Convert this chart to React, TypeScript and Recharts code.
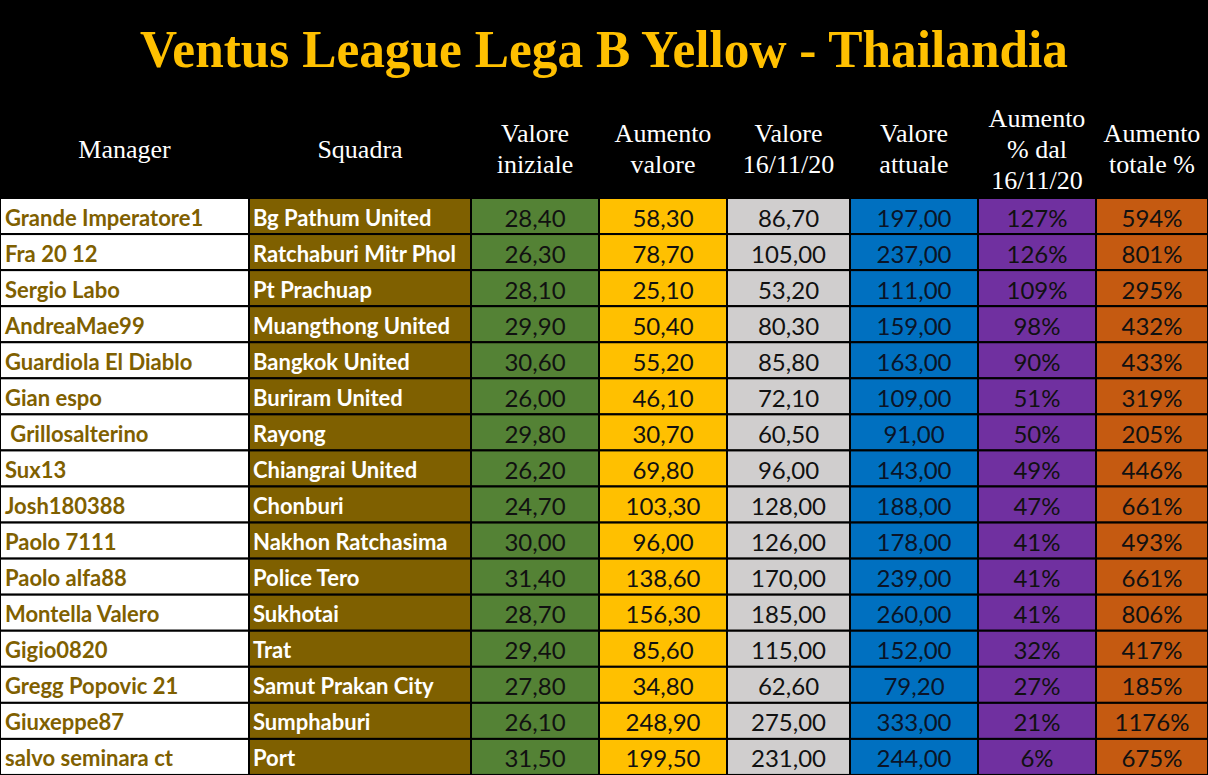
import { BarChart, Bar, XAxis, YAxis } from 'recharts';

const title = 'Ventus League Lega B Yellow - Thailandia';

const managers = [
  'Grande Imperatore1', 'Fra 20 12', 'Sergio Labo', 'AndreaMae99', 'Guardiola El Diablo',
  'Gian espo', ' Grillosalterino', 'Sux13', 'Josh180388', 'Paolo 7111', 'Paolo alfa88',
  'Montella Valero', 'Gigio0820', 'Gregg Popovic 21', 'Giuxeppe87', 'salvo seminara ct'
];
const squadre = [
  'Bg Pathum United', 'Ratchaburi Mitr Phol', 'Pt Prachuap', 'Muangthong United', 'Bangkok United',
  'Buriram United', 'Rayong', 'Chiangrai United', 'Chonburi', 'Nakhon Ratchasima', 'Police Tero',
  'Sukhotai', 'Trat', 'Samut Prakan City', 'Sumphaburi', 'Port'
];
const valoreIniziale = [28.4, 26.3, 28.1, 29.9, 30.6, 26.0, 29.8, 26.2, 24.7, 30.0, 31.4, 28.7, 29.4, 27.8, 26.1, 31.5];
const aumentoValore = [58.3, 78.7, 25.1, 50.4, 55.2, 46.1, 30.7, 69.8, 103.3, 96.0, 138.6, 156.3, 85.6, 34.8, 248.9, 199.5];
const valore161120 = [86.7, 105, 53.2, 80.3, 85.8, 72.1, 60.5, 96, 128, 126, 170, 185, 115, 62.6, 275, 231];
const valoreAttuale = [197, 237, 111, 159, 163, 109, 91, 143, 188, 178, 239, 260, 152, 79.2, 333, 244];
const aumentoDal = [127, 126, 109, 98, 90, 51, 50, 49, 47, 41, 41, 41, 32, 27, 21, 6];
const aumentoTotale = [594, 801, 295, 432, 433, 319, 205, 446, 661, 493, 661, 806, 417, 185, 1176, 675];

const headers = [
  ['Manager'], ['Squadra'], ['Valore', 'iniziale'], ['Aumento', 'valore'],
  ['Valore', '16/11/20'], ['Valore', 'attuale'], ['Aumento', '% dal', '16/11/20'], ['Aumento', 'totale %']
];

// layout
const COL_WIDTHS = [249, 222, 128, 128, 123, 128, 118, 112];
const TOTAL_W = 1208;
const HEAD_H = 198;
const BODY_H = 577;

const COLS = [
  { key: 'manager', fill: '#ffffff', color: '#7f6000', bold: true, size: 22, left: 5 },
  { key: 'squadra', fill: '#7f6000', color: '#ffffff', bold: true, size: 22, left: 4 },
  { key: 'c2', fill: '#548235', color: '#111', bold: false, size: 24 },
  { key: 'c3', fill: '#ffc000', color: '#111', bold: false, size: 24 },
  { key: 'c4', fill: '#d0cece', color: '#111', bold: false, size: 24 },
  { key: 'c5', fill: '#0070c0', color: '#0a1428', bold: false, size: 24 },
  { key: 'c6', fill: '#7030a0', color: '#111', bold: false, size: 24 },
  { key: 'c7', fill: '#c55a11', color: '#111', bold: false, size: 24 }
];

const fmt = (v: number) => v.toFixed(2).replace('.', ',');

const rows = managers.map((m, i) => ({
  id: i,
  manager: m,
  squadra: squadre[i],
  c2: fmt(valoreIniziale[i]),
  c3: fmt(aumentoValore[i]),
  c4: fmt(valore161120[i]),
  c5: fmt(valoreAttuale[i]),
  c6: `${aumentoDal[i]}%`,
  c7: `${aumentoTotale[i]}%`
}));

const makeCell = (col: any) => (props: any) => {
  const { x, y, width, height, payload } = props;
  const tx = col.left != null ? x + col.left : x + width / 2;
  return (
    <g>
      <rect x={x} y={y} width={width} height={height} fill={col.fill} stroke="#000" strokeWidth={2} />
      <text
        x={tx}
        y={y + height / 2 + 1}
        textAnchor={col.left != null ? 'start' : 'middle'}
        dominantBaseline="central"
        fill={col.color}
        fontFamily="Lato, 'Open Sans', sans-serif"
        fontWeight={col.bold ? 700 : 400}
        fontSize={col.size}
        style={{ whiteSpace: 'pre' }}
      >
        {payload[col.key]}
      </text>
    </g>
  );
};

function Header() {
  let acc = 0;
  const centers = COL_WIDTHS.map((w) => {
    const c = acc + w / 2;
    acc += w;
    return c;
  });
  return (
    <svg width={TOTAL_W} height={HEAD_H} style={{ display: 'block' }}>
      <rect x={0} y={0} width={TOTAL_W} height={HEAD_H} fill="#000" />
      <text
        x={TOTAL_W / 2}
        y={67}
        textAnchor="middle"
        fill="#ffc000"
        fontFamily="'Liberation Serif', serif"
        fontWeight={700}
        fontSize={52}
        textLength={928}
        lengthAdjust="spacingAndGlyphs"
      >
        {title}
      </text>
      {headers.map((lines, i) => {
        const lh = 31;
        const top = 149 - ((lines.length - 1) * lh) / 2;
        return lines.map((ln, j) => (
          <text
            key={`${i}-${j}`}
            x={centers[i]}
            y={top + j * lh}
            textAnchor="middle"
            dominantBaseline="central"
            fill="#fff"
            fontFamily="'Liberation Serif', serif"
            fontSize={26}
          >
            {ln}
          </text>
        ));
      })}
    </svg>
  );
}

export default function App() {
  return (
    <div style={{ width: TOTAL_W, height: HEAD_H + BODY_H, background: '#000', overflow: 'hidden' }}>
      <style>{'body{margin:0}'}</style>
      <Header />
      <BarChart
        width={TOTAL_W}
        height={BODY_H}
        data={rows}
        layout="vertical"
        margin={{ top: 0, right: 0, bottom: 0, left: 0 }}
        barCategoryGap={0}
      >
        <XAxis type="number" domain={[0, TOTAL_W]} hide />
        <YAxis type="category" dataKey="id" hide />
        {COLS.map((col, i) => (
          <Bar
            key={col.key}
            dataKey={() => COL_WIDTHS[i]}
            stackId="row"
            isAnimationActive={false}
            shape={makeCell(col)}
          />
        ))}
      </BarChart>
    </div>
  );
}
